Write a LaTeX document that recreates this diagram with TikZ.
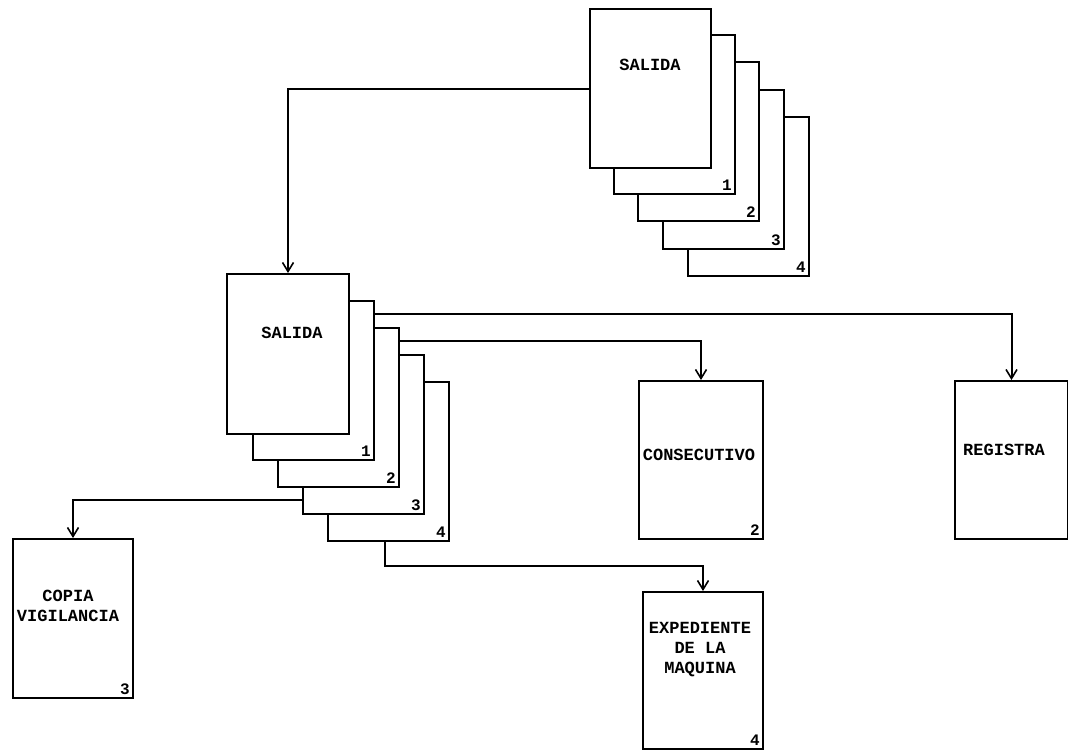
\documentclass[tikz,border=0pt]{standalone}
\usepackage{fontspec}
\newfontfamily\tw{Liberation Mono}
\usetikzlibrary{arrows.meta,calc}
\begin{document}
\begin{tikzpicture}[x=1pt,y=-1pt,
  page/.style={draw,line width=2pt,fill=white,rectangle,anchor=north west,
    minimum width=121pt,minimum height=159pt,inner sep=0pt},
  num/.style={font=\tw\bfseries\fontsize{16}{16}\selectfont,inner sep=0pt,anchor=south east},
  txt/.style={font=\tw\bfseries\fontsize{17}{20}\selectfont,align=center,inner sep=0pt},
  link/.style={line width=2pt,-{Straight Barb[length=9pt,width=11pt,line width=1.6pt]}}]
\useasboundingbox (0,0) rectangle (1068,750);
% top stack
\node[page] (T4) at (687,116) {};
\node[page] (T3) at (662,89) {};
\node[page] (T2) at (637,61) {};
\node[page] (T1) at (613,34) {};
\node[page] (T0) at (589,8) {};
\node[num] at ($(T1.south east)+(-4,-4)$) {1};
\node[num] at ($(T2.south east)+(-4,-4)$) {2};
\node[num] at ($(T3.south east)+(-4,-4)$) {3};
\node[num] at ($(T4.south east)+(-4,-4)$) {4};
\node[txt] (t0) at (650,65) {SALIDA};
% middle stack
\node[page] (M4) at (327,381) {};
\node[page] (M3) at (302,354) {};
\node[page] (M2) at (277,327) {};
\node[page] (M1) at (252,300) {};
\node[page,minimum width=122pt,minimum height=160pt] (M0) at (226,273) {};
\node[num] at ($(M1.south east)+(-4,-4)$) {1};
\node[num] at ($(M2.south east)+(-4,-4)$) {2};
\node[num] at ($(M3.south east)+(-4,-4)$) {3};
\node[num] at ($(M4.south east)+(-4,-4)$) {4};
\node[txt] (m0) at (292,333) {SALIDA};
% destination boxes
\node[page,minimum width=124pt,minimum height=158pt] (C) at (638,380) {};
\node[txt] at (699,455) {CONSECUTIVO};
\node[num] at ($(C.south east)+(-4,-4)$) {2};
\node[page,minimum width=113pt,minimum height=158pt] (R) at (954,380) {};
\node[txt] at (1004,450) {REGISTRA};
\node[page,minimum width=120pt,minimum height=159pt] (V) at (12,538) {};
\node[txt] at (68,606) {COPIA\\VIGILANCIA};
\node[num] at ($(V.south east)+(-4,-4)$) {3};
\node[page,minimum width=120pt,minimum height=157pt] (E) at (642,591) {};
\node[txt] at (700,650) {EXPEDIENTE\\DE LA\\MAQUINA};
\node[num] at ($(E.south east)+(-4,-4)$) {4};
% connectors
\draw[link] (T0.west) -| (M0.north);
\draw[link] ($(M1.north east)+(0,14)$) -| (R.north);
\draw[link] ($(M2.north east)+(0,14)$) -| (C.north);
\draw[link] ($(M3.north west)+(0,146)$) -| (V.north);
\draw[link] ($(M4.south west)+(58,0)$) -- ++(0,24) -| (E.north);
\end{tikzpicture}
\end{document}
